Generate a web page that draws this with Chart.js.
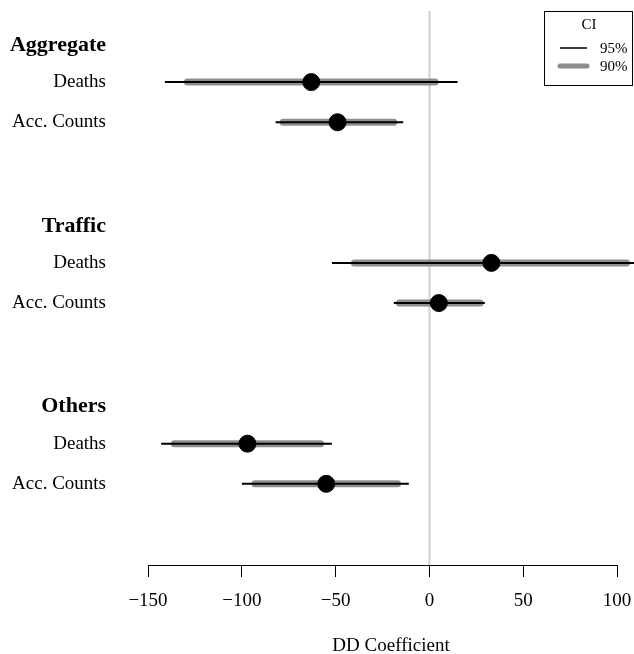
<!DOCTYPE html>
<html>
<head>
<meta charset="utf-8">
<script src="https://cdn.jsdelivr.net/npm/chart.js@4"></script>
<style>
  html, body { margin: 0; padding: 0; background: #fff; }
  #wrap { width: 634px; height: 654px; }
</style>
</head>
<body>
<div id="wrap"><canvas id="coefChart" width="634" height="654"></canvas></div>
<script>
// groups and outcomes, rows are ordered group by group
const groups = ['Aggregate', 'Traffic', 'Others'];
const outcomes = ['Deaths', 'Acc. Counts'];

// DD coefficient estimates and confidence bounds, one per row
const estimate = [-63, -49, 33, 5, -97, -55];
const lo95 = [-141, -82, -52, -19, -143, -100];
const hi95 = [15, -14, 118, 29.5, -52, -11];
const lo90 = [-129, -78, -40, -16, -136, -93];
const hi90 = [3, -19, 105, 27, -58, -17];

const xTicks = [-150, -100, -50, 0, 50, 100];
const ciLabels = ['95%', '90%'];

const serif = "'Liberation Serif', 'DejaVu Serif', serif";

// row positions: a header per group, then one row per outcome
const labelAt = {};
const rowY = [];
groups.forEach((g, gi) => {
    const base = gi * 4.5;
    labelAt[base + 0.08] = { text: g, bold: true };
    outcomes.forEach((o, oi) => {
        labelAt[base + oi + 1] = { text: o, bold: false };
        rowY.push(base + oi + 1);
    });
});

const segments = (lo, hi) => {
    const pts = [];
    lo.forEach((v, i) => {
        pts.push({ x: v, y: rowY[i] }, { x: hi[i], y: rowY[i] }, { x: null, y: null });
    });
    return pts;
};

const zeroLine = {
    id: 'zeroLine',
    beforeDatasetsDraw(chart) {
        const { ctx, chartArea, scales } = chart;
        const x = scales.x.getPixelForValue(0);
        ctx.save();
        ctx.strokeStyle = '#d0d0d0';
        ctx.lineWidth = 2;
        ctx.beginPath();
        ctx.moveTo(x, chartArea.top);
        ctx.lineTo(x, chartArea.bottom);
        ctx.stroke();
        ctx.restore();
    }
};

// R style axis line, only between first and last tick
const axisLine = {
    id: 'axisLine',
    afterDraw(chart) {
        const { ctx, scales } = chart;
        const y = scales.x.top + 0.5;
        ctx.save();
        ctx.strokeStyle = '#000';
        ctx.lineWidth = 1;
        ctx.beginPath();
        ctx.moveTo(scales.x.getPixelForValue(xTicks[0]), y);
        ctx.lineTo(scales.x.getPixelForValue(xTicks[xTicks.length - 1]), y);
        ctx.stroke();
        ctx.restore();
    }
};

const ciLegend = {
    id: 'ciLegend',
    afterDraw(chart) {
        const { ctx } = chart;
        const left = 544, top = 11, w = 88, h = 74;
        ctx.save();
        ctx.fillStyle = '#fff';
        ctx.fillRect(left, top, w, h);
        ctx.strokeStyle = '#000';
        ctx.lineWidth = 1;
        ctx.strokeRect(left + 0.5, top + 0.5, w, h);
        ctx.fillStyle = '#000';
        ctx.font = '15px ' + serif;
        ctx.textBaseline = 'middle';
        ctx.textAlign = 'center';
        ctx.fillText('CI', 589, 25);
        ctx.textAlign = 'left';
        const styles = [{ color: '#000', width: 1.5 }, { color: '#8e8e8e', width: 5 }];
        ciLabels.forEach((lab, i) => {
            const y = 48 + i * 18;
            ctx.strokeStyle = styles[i].color;
            ctx.lineWidth = styles[i].width;
            ctx.lineCap = i ? 'round' : 'butt';
            ctx.beginPath();
            ctx.moveTo(560, y);
            ctx.lineTo(587, y);
            ctx.stroke();
            ctx.fillText(lab, 600, y + 1);
        });
        ctx.restore();
    }
};

new Chart(document.getElementById('coefChart'), {
    type: 'line',
    data: {
        datasets: [
            {
                label: '90%',
                data: segments(lo90, hi90),
                borderColor: '#8e8e8e',
                borderWidth: 7,
                borderCapStyle: 'round',
                pointRadius: 0,
                spanGaps: false,
                order: 3
            },
            {
                label: '95%',
                data: segments(lo95, hi95),
                borderColor: '#000',
                borderWidth: 2,
                pointRadius: 0,
                spanGaps: false,
                order: 2
            },
            {
                label: 'Estimate',
                data: estimate.map((v, i) => ({ x: v, y: rowY[i] })),
                showLine: false,
                pointRadius: 8.5,
                pointBackgroundColor: '#000',
                pointBorderColor: '#000',
                order: 1
            }
        ]
    },
    options: {
        responsive: false,
        animation: false,
        layout: { autoPadding: false, padding: { top: 11, left: 0, right: 0, bottom: 0 } },
        plugins: {
            legend: { display: false },
            tooltip: { enabled: false }
        },
        scales: {
            x: {
                type: 'linear',
                min: -150,
                max: 109,
                afterBuildTicks: (scale) => { scale.ticks = xTicks.map(v => ({ value: v })); },
                afterFit: (scale) => {
                    scale.height = 89;
                    scale.paddingLeft = 0;
                    scale.paddingRight = 0;
                },
                border: { display: false },
                grid: { drawOnChartArea: false, drawTicks: true, tickLength: 12, color: '#000', lineWidth: 1 },
                ticks: {
                    color: '#000',
                    font: { family: serif, size: 19 },
                    padding: 13,
                    maxRotation: 0,
                    callback: (v) => String(v).replace('-', '\u2212')
                },
                title: {
                    display: true,
                    text: 'DD Coefficient',
                    color: '#000',
                    font: { family: serif, size: 19 },
                    padding: { top: 0, bottom: -3 }
                }
            },
            y: {
                type: 'linear',
                reverse: true,
                min: -0.77,
                max: 13.02,
                afterBuildTicks: (scale) => {
                    scale.ticks = Object.keys(labelAt).map(k => ({ value: Number(k) }));
                },
                afterFit: (scale) => {
                    scale.width = 148;
                    scale.paddingTop = 0;
                    scale.paddingBottom = 0;
                },
                border: { display: false },
                grid: { display: false, drawTicks: false },
                ticks: {
                    color: '#000',
                    padding: 42,
                    autoSkip: false,
                    callback: (v) => labelAt[v] ? labelAt[v].text : '',
                    font: (ctx) => {
                        const l = ctx.tick && labelAt[ctx.tick.value];
                        return l && l.bold
                            ? { family: serif, size: 22, weight: 'bold' }
                            : { family: serif, size: 19 };
                    }
                }
            }
        }
    },
    plugins: [zeroLine, axisLine, ciLegend]
});
</script>
</body>
</html>
